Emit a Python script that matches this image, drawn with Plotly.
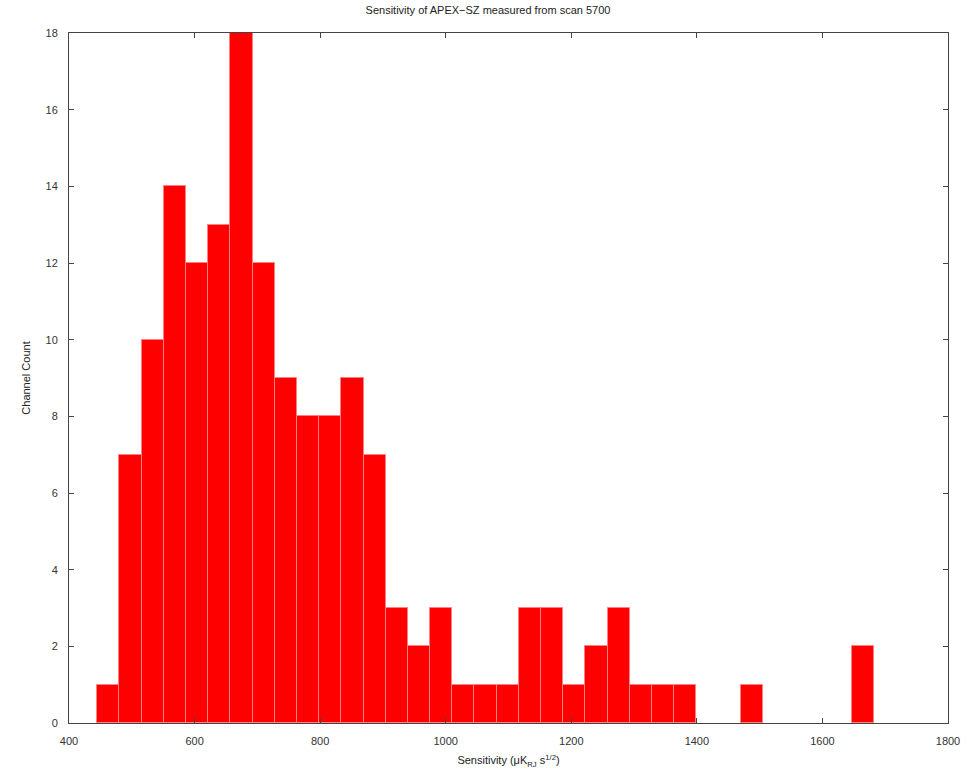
import plotly.graph_objects as go

# Histogram data
bin_start = 445.0
bin_width = 35.34
counts = [1, 7, 10, 14, 12, 13, 18, 12, 9, 8, 8, 9, 7, 3, 2, 3, 1, 1, 1, 3,
          3, 1, 2, 3, 1, 1, 1, 0, 0, 1, 0, 0, 0, 0, 2]
x_ticks = [400, 600, 800, 1000, 1200, 1400, 1600, 1800]
y_ticks = list(range(0, 19, 2))

centers = [bin_start + bin_width * (i + 0.5) for i in range(len(counts))]
edge_widths = [1 if c > 0 else 0 for c in counts]

FONT = "Liberation Sans, Arial, sans-serif"

fig = go.Figure()
fig.add_trace(go.Bar(
    x=centers, y=counts, width=[bin_width] * len(counts),
    marker=dict(color="#ff0000", line=dict(color="#ff8080", width=edge_widths)),
    showlegend=False,
))

axis_common = dict(
    showline=True, linecolor="#444", linewidth=1, mirror="ticks",
    ticks="inside", ticklen=5, tickcolor="#444", showgrid=False, zeroline=False,
    tickfont=dict(family=FONT, size=11, color="#333"),
)

fig.update_layout(
    width=976, height=779,
    margin=dict(l=69, r=28, t=33, b=56),
    paper_bgcolor="white", plot_bgcolor="white",
    bargap=0,
    title=dict(text="Sensitivity of APEX\u2212SZ measured from scan 5700",
               x=0.5, xanchor="center", y=0.987, yanchor="middle",
               font=dict(family=FONT, size=11, color="#222")),
    xaxis=dict(range=[400, 1800], tickvals=x_ticks, ticklabelstandoff=8,
               title=dict(text="Sensitivity (\u03bcK<sub>RJ</sub> s<sup>1/2</sup>)",
                          standoff=10,
                          font=dict(family=FONT, size=11, color="#222")),
               **axis_common),
    yaxis=dict(range=[0, 18], tickvals=y_ticks, ticklabelstandoff=8,
               title=dict(text="Channel Count", standoff=12,
                          font=dict(family=FONT, size=11, color="#222")),
               **axis_common),
)

fig.write_html("out.html")
